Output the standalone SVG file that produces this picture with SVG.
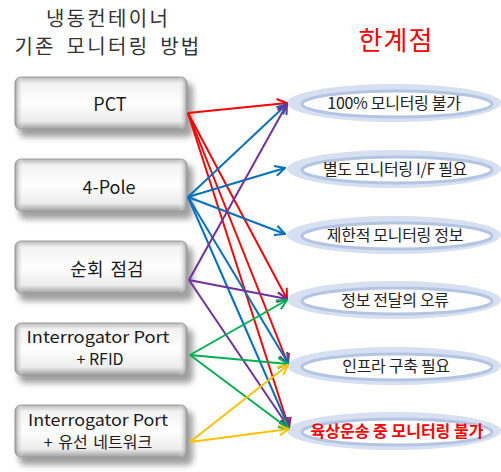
<svg xmlns="http://www.w3.org/2000/svg" width="501" height="472" viewBox="0 0 501 472">
<style>
.title{font-family:"Noto Sans CJK KR","Noto Sans",sans-serif;font-size:20px;fill:#333;text-anchor:middle;letter-spacing:2.3px;word-spacing:4px}
.limit{font-family:"Noto Sans CJK KR","Noto Sans",sans-serif;font-size:26px;fill:#ff0000;text-anchor:middle;letter-spacing:1px}
.btxt{font-family:"Noto Sans CJK KR","Noto Sans",sans-serif;font-size:18px;fill:#1a1a1a;text-anchor:middle}
.btxt2{font-family:"Noto Sans CJK KR","Noto Sans",sans-serif;font-size:16px;fill:#1a1a1a;text-anchor:middle}
.etxt{font-family:"Noto Sans CJK KR","Noto Sans",sans-serif;font-size:16px;fill:#222;text-anchor:middle;letter-spacing:-0.3px}
.ered{font-family:"Noto Sans CJK KR","Noto Sans",sans-serif;font-size:16px;fill:#ff0000;font-weight:bold;text-anchor:middle}
.box{fill:url(#gv);stroke:#9a9a9a;stroke-width:1}
.boxh{fill:url(#gh)}
.shadow{fill:#777;filter:url(#blur);opacity:0.7}
.eo{fill:#d6e0f0}
.ei{fill:#fff;stroke:#b3c5e3;stroke-width:3}
.c{fill:none;stroke-width:2}
.r{stroke:#ff0000;marker-end:url(#mr)}
.b{stroke:#0070c0;marker-end:url(#mb)}
.p{stroke:#7030a0;marker-end:url(#mp)}
.g{stroke:#00b050;marker-end:url(#mg)}
.y{stroke:#ffc000;marker-end:url(#my)}
</style>
<defs>
<filter id="blur" x="-20%" y="-40%" width="140%" height="180%"><feGaussianBlur stdDeviation="3"/></filter>
<linearGradient id="gv" x1="0" y1="0" x2="0" y2="1">
<stop offset="0" stop-color="#b8b8b8"/>
<stop offset="0.12" stop-color="#f2f2f2"/>
<stop offset="0.5" stop-color="#ffffff"/>
<stop offset="0.85" stop-color="#ececec"/>
<stop offset="1" stop-color="#a0a0a0"/>
</linearGradient>
<linearGradient id="gh" x1="0" y1="0" x2="1" y2="0">
<stop offset="0" stop-color="#8a8a8a" stop-opacity="0.8"/>
<stop offset="0.05" stop-color="#ffffff" stop-opacity="0"/>
<stop offset="0.95" stop-color="#ffffff" stop-opacity="0"/>
<stop offset="1" stop-color="#8a8a8a" stop-opacity="0.8"/>
</linearGradient>
<marker id="mr" viewBox="0 0 12 12" refX="11" refY="6" markerWidth="12" markerHeight="12" markerUnits="userSpaceOnUse" orient="auto"><path d="M1,1 L11,6 L1,11" fill="none" stroke="#ff0000" stroke-width="2"/></marker>
<marker id="mb" viewBox="0 0 12 12" refX="11" refY="6" markerWidth="12" markerHeight="12" markerUnits="userSpaceOnUse" orient="auto"><path d="M1,1 L11,6 L1,11" fill="none" stroke="#0070c0" stroke-width="2"/></marker>
<marker id="mp" viewBox="0 0 12 12" refX="11" refY="6" markerWidth="12" markerHeight="12" markerUnits="userSpaceOnUse" orient="auto"><path d="M1,1 L11,6 L1,11" fill="none" stroke="#7030a0" stroke-width="2"/></marker>
<marker id="mg" viewBox="0 0 12 12" refX="11" refY="6" markerWidth="12" markerHeight="12" markerUnits="userSpaceOnUse" orient="auto"><path d="M1,1 L11,6 L1,11" fill="none" stroke="#00b050" stroke-width="2"/></marker>
<marker id="my" viewBox="0 0 12 12" refX="11" refY="6" markerWidth="12" markerHeight="12" markerUnits="userSpaceOnUse" orient="auto"><path d="M1,1 L11,6 L1,11" fill="none" stroke="#ffc000" stroke-width="2"/></marker>
</defs>
<rect width="501" height="472" fill="#fff"/>
<g id="title">
<text class="title" x="108" y="26">냉동컨테이너</text>
<text class="title" x="108" y="54">기존 모니터링 방법</text>
</g>
<text class="limit" x="396" y="50" id="limit-title">한계점</text>

<g id="m1"><rect class="shadow" x="19" y="83" width="174" height="54" rx="6"/><rect class="box" x="15" y="77" width="172" height="52" rx="6"/><rect class="boxh" x="15" y="77" width="172" height="52" rx="6"/><text class="btxt" x="110" y="111">PCT</text></g>
<g id="m2"><rect class="shadow" x="19" y="165" width="174" height="54" rx="6"/><rect class="box" x="15" y="159" width="172" height="52" rx="6"/><rect class="boxh" x="15" y="159" width="172" height="52" rx="6"/><text class="btxt" x="109" y="194">4-Pole</text></g>
<g id="m3"><rect class="shadow" x="19" y="247" width="174" height="54" rx="6"/><rect class="box" x="15" y="241" width="172" height="52" rx="6"/><rect class="boxh" x="15" y="241" width="172" height="52" rx="6"/><text class="btxt" x="107" y="276" word-spacing="3">순회 점검</text></g>
<g id="m4"><rect class="shadow" x="19" y="329" width="174" height="54" rx="6"/><rect class="box" x="15" y="323" width="172" height="52" rx="6"/><rect class="boxh" x="15" y="323" width="172" height="52" rx="6"/><text class="btxt2" x="98" y="343" textLength="143" lengthAdjust="spacingAndGlyphs">Interrogator Port</text><text class="btxt2" x="100" y="365">+ RFID</text></g>
<g id="m5"><rect class="shadow" x="19" y="411" width="174" height="54" rx="6"/><rect class="box" x="15" y="405" width="172" height="52" rx="6"/><rect class="boxh" x="15" y="405" width="172" height="52" rx="6"/><text class="btxt2" x="98" y="426" textLength="140" lengthAdjust="spacingAndGlyphs">Interrogator Port</text><text class="btxt2" x="98" y="448" word-spacing="2">+ 유선 네트워크</text></g>

<g id="l1"><ellipse class="eo" cx="394" cy="103" rx="107" ry="19"/><ellipse class="ei" cx="397" cy="104" rx="95" ry="13"/><text class="etxt" x="394" y="109">100% 모니터링 불가</text></g>
<g id="l2"><ellipse class="eo" cx="394" cy="169" rx="107" ry="19"/><ellipse class="ei" cx="397" cy="170" rx="95" ry="13"/><text class="etxt" x="395" y="175">별도 모니터링 I/F 필요</text></g>
<g id="l3"><ellipse class="eo" cx="394" cy="235" rx="107" ry="19"/><ellipse class="ei" cx="397" cy="236" rx="95" ry="13"/><text class="etxt" x="395" y="241">제한적 모니터링 정보</text></g>
<g id="l4"><ellipse class="eo" cx="394" cy="300" rx="107" ry="19"/><ellipse class="ei" cx="397" cy="301" rx="95" ry="13"/><text class="etxt" x="395" y="306">정보 전달의 오류</text></g>
<g id="l5"><ellipse class="eo" cx="394" cy="366" rx="107" ry="19"/><ellipse class="ei" cx="397" cy="367" rx="95" ry="13"/><text class="etxt" x="396" y="372">인프라 구축 필요</text></g>
<g id="l6"><ellipse class="eo" cx="394" cy="431" rx="107" ry="19"/><ellipse class="ei" cx="397" cy="432" rx="95" ry="13"/><text class="ered" x="397" y="437">육상운송 중 모니터링  불가</text></g>

<g id="connectors">
<line class="c r" x1="188" y1="113" x2="287" y2="103"/>
<line class="c r" x1="188" y1="113" x2="287" y2="299"/>
<line class="c r" x1="188" y1="113" x2="288" y2="364"/>
<line class="c r" x1="188" y1="113" x2="289" y2="428"/>
<line class="c b" x1="188" y1="197" x2="287" y2="104"/>
<line class="c b" x1="188" y1="197" x2="285" y2="168"/>
<line class="c b" x1="188" y1="197" x2="285" y2="234"/>
<line class="c b" x1="188" y1="197" x2="288" y2="363"/>
<line class="c b" x1="188" y1="197" x2="289" y2="428"/>
<line class="c p" x1="189" y1="280" x2="287" y2="104"/>
<line class="c p" x1="189" y1="280" x2="287" y2="299"/>
<line class="c p" x1="189" y1="280" x2="289" y2="428"/>
<line class="c g" x1="190" y1="355" x2="287" y2="300"/>
<line class="c g" x1="190" y1="355" x2="288" y2="364"/>
<line class="c g" x1="190" y1="355" x2="289" y2="429"/>
<line class="c y" x1="190" y1="442" x2="288" y2="365"/>
<line class="c y" x1="190" y1="442" x2="289" y2="429"/>
</g>
</svg>
